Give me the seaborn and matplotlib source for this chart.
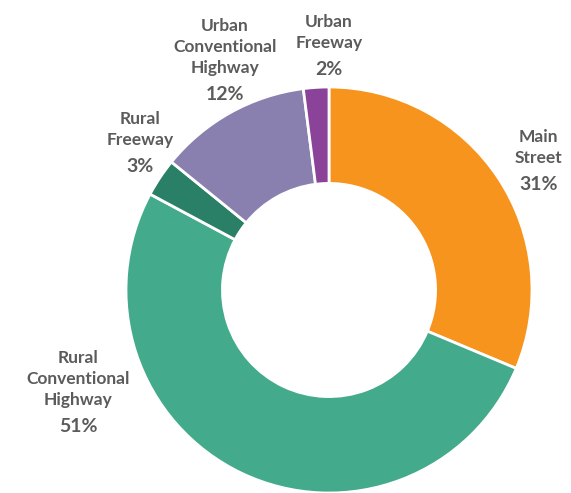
import numpy as np
import seaborn as sns
import matplotlib.pyplot as plt

# Share by road type
categories = ['Main\nStreet', 'Rural\nConventional\nHighway', 'Rural\nFreeway',
              'Urban\nConventional\nHighway', 'Urban\nFreeway']
shares = [31, 51, 3, 12, 2]
pct_labels = ['31%', '51%', '3%', '12%', '2%']
colors = ['#F7941D', '#43AA8B', '#2A8066', '#8A80B0', '#8A4398']

sns.set_theme(style="white")
plt.rcParams['font.family'] = ['Lato', 'DejaVu Sans']

fig = plt.figure(figsize=(5.71, 4.93), dpi=100)
W, H = 571, 493
cx, cy, r = 329, 290, 203
ax = fig.add_axes([(cx - r) / W, (H - cy - r) / H, 2 * r / W, 2 * r / H])

wedges, _ = ax.pie(shares, colors=colors, startangle=90, counterclock=False,
                   radius=1, wedgeprops=dict(width=0.475, edgecolor='white', linewidth=2))
ax.set_xlim(-1, 1)
ax.set_ylim(-1, 1)
ax.set_aspect('equal')
ax.axis('off')

# label placement: distance from centre (in radii) and angle nudge (degrees)
label_dist = [1.19, 1.37, 1.156, 1.159, 1.163]
angle_nudge = [-3.6, -38.8, -2.7, -2.8, -3.6]
txt_color = '#5B5B5B'
for w, name, pct, d, nud in zip(wedges, categories, pct_labels, label_dist, angle_nudge):
    ang = np.deg2rad((w.theta1 + w.theta2) / 2 + nud)
    x, y = d * np.cos(ang), d * np.sin(ang)
    ax.annotate(name, (x, y), xytext=(0, 2), textcoords='offset points',
                ha='center', va='bottom', fontsize=12.5, fontweight='bold',
                color=txt_color, linespacing=1.4, annotation_clip=False)
    ax.annotate(pct, (x, y), xytext=(0, -5), textcoords='offset points',
                ha='center', va='top', fontsize=14, fontweight='bold',
                color=txt_color, annotation_clip=False)

fig.savefig('out.png', dpi=100)
